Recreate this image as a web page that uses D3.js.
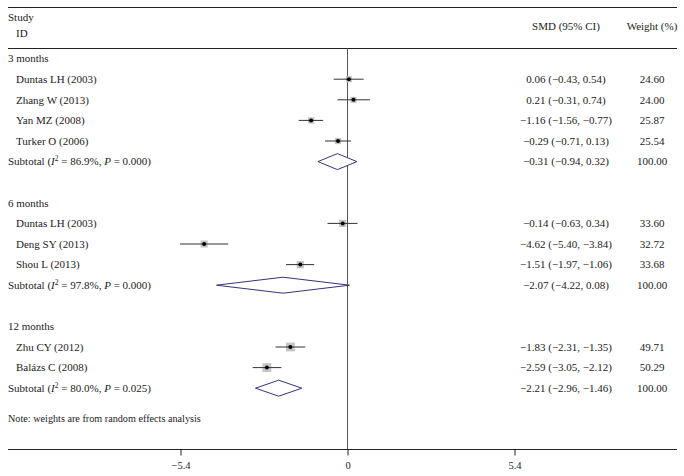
<!DOCTYPE html>
<html><head><meta charset="utf-8">
<script src="https://cdn.jsdelivr.net/npm/d3@7"></script>
<style>body{margin:0;background:#fff}svg{display:block}text{font-family:"Liberation Serif","Times New Roman",serif;fill:#222}</style>
</head><body><svg id="c" width="684" height="476"></svg>
<script>
const groups = ["3 months", "6 months", "12 months"];
const studyNames = ["Duntas LH (2003)", "Zhang W (2013)", "Yan MZ (2008)", "Turker O (2006)",
  "Duntas LH (2003)", "Deng SY (2013)", "Shou L (2013)",
  "Zhu CY (2012)", "Balázs C (2008)"];
const studyGroup = [0, 0, 0, 0, 1, 1, 1, 2, 2];
const studySMD = [0.06, 0.21, -1.16, -0.29, -0.14, -4.62, -1.51, -1.83, -2.59];
const studyLo = [-0.43, -0.31, -1.56, -0.71, -0.63, -5.40, -1.97, -2.31, -3.05];
const studyHi = [0.54, 0.74, -0.77, 0.13, 0.34, -3.84, -1.06, -1.35, -2.12];
const studyWeight = [24.60, 24.00, 25.87, 25.54, 33.60, 32.72, 33.68, 49.71, 50.29];
const subI2 = ["86.9%", "97.8%", "80.0%"];
const subP = ["0.000", "0.000", "0.025"];
const subSMD = [-0.31, -2.07, -2.21];
const subLo = [-0.94, -4.22, -2.96];
const subHi = [0.32, 0.08, -1.46];
const subWeight = [100.00, 100.00, 100.00];
const tickValues = [-5.4, 0, 5.4];
const tickLabels = ["\u22125.4", "0", "5.4"];
const noteText = "Note: weights are from random effects analysis";

const fmt = v => (v < 0 ? "\u2212" : "") + Math.abs(v).toFixed(2);
const ciText = (e, l, h) => `${fmt(e)} (${fmt(l)}, ${fmt(h)})`;

// build rows
const rows = [];
groups.forEach((g, gi) => {
  rows.push({type: "group", label: g});
  studyNames.forEach((n, i) => {
    if (studyGroup[i] === gi) rows.push({type: "study", label: n, est: studySMD[i], lo: studyLo[i], hi: studyHi[i], w: studyWeight[i]});
  });
  rows.push({type: "sub", gi, est: subSMD[gi], lo: subLo[gi], hi: subHi[gi], w: subWeight[gi]});
  if (gi < groups.length - 1) rows.push({type: "blank"});
});
rows.forEach((r, i) => r.i = i);

const svg = d3.select("#c");
const x = d3.scaleLinear().domain([-5.4, 5.4]).range([180, 514]);
const y = d3.scaleLinear().domain([0, 1]).range([58.6, 79.2]);
const size = d3.scaleSqrt().domain([0, 100]).range([0, 12.4]);

const L = 8, R = 677, topY = 7.5, headY = 48.5, axisY = 449.5;
const colCI = 566, colW = 652;
const fs = 11;

// rules
svg.append("line").attr("x1", L).attr("x2", R).attr("y1", topY).attr("y2", topY).attr("stroke", "#222");
svg.append("line").attr("x1", L).attr("x2", R).attr("y1", headY).attr("y2", headY).attr("stroke", "#222");
// header
svg.append("text").attr("x", 8).attr("y", 21).attr("font-size", fs).text("Study");
svg.append("text").attr("x", 16).attr("y", 37).attr("font-size", fs).text("ID");
svg.append("text").attr("x", colCI).attr("y", 30).attr("font-size", fs).attr("text-anchor", "middle").text("SMD (95% CI)");
svg.append("text").attr("x", colW).attr("y", 30).attr("font-size", fs).attr("text-anchor", "middle").text("Weight (%)");

// zero line
svg.append("line").attr("x1", x(0) + 0.5).attr("x2", x(0) + 0.5).attr("y1", headY).attr("y2", axisY).attr("stroke", "#555");

// axis
const axis = d3.axisBottom(x).tickValues(tickValues).tickFormat((d, i) => tickLabels[i]).tickSize(6).tickPadding(6);
const ag = svg.append("g").attr("transform", `translate(0.5,${axisY})`).call(axis);
ag.select(".domain").remove();
ag.selectAll(".tick line").attr("stroke", "#222");
ag.selectAll(".tick text").attr("font-size", 10.5).attr("fill", "#222").style("font-family", '"Liberation Serif",serif');
svg.append("line").attr("x1", L).attr("x2", R).attr("y1", axisY).attr("y2", axisY).attr("stroke", "#222");

// rows
rows.forEach(r => {
  const cy = y(r.i);
  const by = cy + fs * 0.35;
  if (r.type === "group") {
    svg.append("text").attr("x", 8).attr("y", by).attr("font-size", fs).text(r.label);
  } else if (r.type === "study") {
    svg.append("text").attr("x", 16).attr("y", by).attr("font-size", fs).text(r.label);
    svg.append("text").attr("x", colCI).attr("y", by).attr("font-size", fs).attr("text-anchor", "middle").text(ciText(r.est, r.lo, r.hi));
    svg.append("text").attr("x", colW).attr("y", by).attr("font-size", fs).attr("text-anchor", "middle").text(r.w.toFixed(2));
    const s = size(r.w);
    svg.append("rect").attr("x", x(r.est) - s / 2).attr("y", cy - s / 2).attr("width", s).attr("height", s).attr("fill", "#c4c4c4");
    svg.append("line").attr("x1", x(r.lo)).attr("x2", x(r.hi)).attr("y1", cy).attr("y2", cy).attr("stroke", "#333").attr("stroke-width", 1);
    svg.append("circle").attr("cx", x(r.est)).attr("cy", cy).attr("r", 2).attr("fill", "#000");
  } else if (r.type === "sub") {
    const t = svg.append("text").attr("x", 8).attr("y", by).attr("font-size", fs);
    t.append("tspan").text("Subtotal (");
    t.append("tspan").attr("font-style", "italic").text("I");
    t.append("tspan").attr("font-size", 7.5).attr("dy", -4).text("2");
    t.append("tspan").attr("dy", 4).text(` = ${subI2[r.gi]}, `);
    t.append("tspan").attr("font-style", "italic").text("P");
    t.append("tspan").text(` = ${subP[r.gi]})`);
    svg.append("text").attr("x", colCI).attr("y", by).attr("font-size", fs).attr("text-anchor", "middle").text(ciText(r.est, r.lo, r.hi));
    svg.append("text").attr("x", colW).attr("y", by).attr("font-size", fs).attr("text-anchor", "middle").text(r.w.toFixed(2));
    const h = 8;
    svg.append("path")
      .attr("d", `M${x(r.lo)},${cy}L${x(r.est)},${cy - h}L${x(r.hi)},${cy}L${x(r.est)},${cy + h}Z`)
      .attr("fill", "#fff").attr("stroke", "#34347f").attr("stroke-width", 1);
  }
});

svg.append("text").attr("x", 8).attr("y", 418 + fs * 0.35).attr("font-size", 10.2).text(noteText);
</script></body></html>
